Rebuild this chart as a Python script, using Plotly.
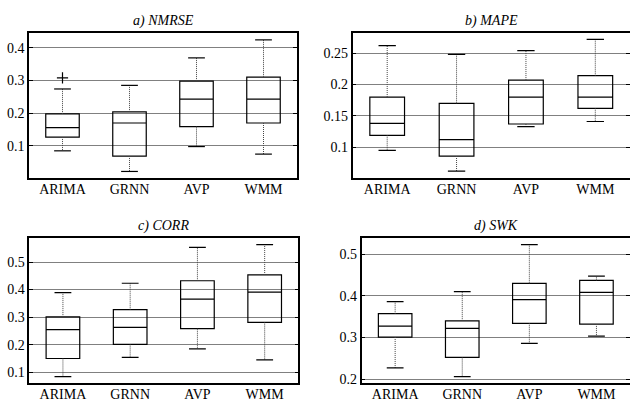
import plotly.graph_objects as go

categories = ["ARIMA", "GRNN", "AVP", "WMM"]

# a) NMRSE
nmrse_low = [0.085, 0.022, 0.098, 0.075]
nmrse_q1 = [0.127, 0.069, 0.159, 0.170]
nmrse_med = [0.156, 0.170, 0.243, 0.243]
nmrse_q3 = [0.198, 0.204, 0.298, 0.310]
nmrse_high = [0.274, 0.285, 0.369, 0.424]
nmrse_outlier_cat = ["ARIMA"]
nmrse_outlier_val = [0.308]

# b) MAPE
mape_low = [0.095, 0.062, 0.133, 0.141]
mape_q1 = [0.119, 0.086, 0.137, 0.162]
mape_med = [0.138, 0.112, 0.180, 0.180]
mape_q3 = [0.180, 0.170, 0.207, 0.214]
mape_high = [0.262, 0.248, 0.254, 0.272]

# c) CORR
corr_low = [0.084, 0.154, 0.185, 0.145]
corr_q1 = [0.150, 0.201, 0.258, 0.281]
corr_med = [0.255, 0.263, 0.365, 0.391]
corr_q3 = [0.301, 0.327, 0.432, 0.453]
corr_high = [0.389, 0.423, 0.553, 0.563]

# d) SWK
swk_low = [0.227, 0.206, 0.286, 0.303]
swk_q1 = [0.301, 0.252, 0.334, 0.332]
swk_med = [0.327, 0.322, 0.391, 0.408]
swk_q3 = [0.357, 0.340, 0.430, 0.437]
swk_high = [0.386, 0.410, 0.523, 0.447]

titles = ["a) NMRSE", "b) MAPE", "c) CORR", "d) SWK"]
ytick_vals = [
    [0.1, 0.2, 0.3, 0.4],
    [0.1, 0.15, 0.2, 0.25],
    [0.1, 0.2, 0.3, 0.4, 0.5],
    [0.2, 0.3, 0.4, 0.5],
]
ytick_text = [
    ["0.1", "0.2", "0.3", "0.4"],
    ["0.1", "0.15", "0.2", "0.25"],
    ["0.1", "0.2", "0.3", "0.4", "0.5"],
    ["0.2", "0.3", "0.4", "0.5"],
]
yranges = [[0.002, 0.445], [0.051, 0.282], [0.060, 0.586], [0.190, 0.538]]

panels = [
    (nmrse_low, nmrse_q1, nmrse_med, nmrse_q3, nmrse_high),
    (mape_low, mape_q1, mape_med, mape_q3, mape_high),
    (corr_low, corr_q1, corr_med, corr_q3, corr_high),
    (swk_low, swk_q1, swk_med, swk_q3, swk_high),
]

W, H = 630, 399
# pixel frames: left, right, top, bottom
frames = [
    (29, 297, 33, 178),
    (352.5, 630, 33, 178),
    (29.3, 298.3, 238.3, 383.3),
    (361.6, 630, 238.3, 383.3),
]
title_y = [21, 21, 226, 226]

FONT = "'Liberation Serif', 'Times New Roman', Times, serif"
pos = list(range(1, len(categories) + 1))
cap_half = 0.125

fig = go.Figure()
layout = dict(
    width=W, height=H, margin=dict(l=0, r=0, t=0, b=0, autoexpand=False),
    paper_bgcolor="white", plot_bgcolor="white", showlegend=False,
    font=dict(family=FONT, size=14, color="black"),
    annotations=[],
)

for k, (low, q1, med, q3, high) in enumerate(panels):
    s = "" if k == 0 else str(k + 1)
    xa, ya = "x" + s, "y" + s
    l, r, t, b = frames[k]
    # whiskers (dotted)
    wx, wy, cx, cy = [], [], [], []
    for i, p in enumerate(pos):
        wx += [p, p, None, p, p, None]
        wy += [q3[i], high[i], None, q1[i], low[i], None]
        cx += [p - cap_half, p + cap_half, None, p - cap_half, p + cap_half, None]
        cy += [high[i], high[i], None, low[i], low[i], None]
    fig.add_trace(go.Scatter(x=wx, y=wy, mode="lines", xaxis=xa, yaxis=ya,
                             line=dict(color="#444444", width=1, dash="1px,1px"),
                             hoverinfo="skip"))
    fig.add_trace(go.Scatter(x=cx, y=cy, mode="lines", xaxis=xa, yaxis=ya,
                             line=dict(color="black", width=1.2),
                             hoverinfo="skip"))
    fig.add_trace(go.Box(x=pos, q1=q1, median=med, q3=q3,
                         lowerfence=q1, upperfence=q3, orientation="v",
                         width=0.5, whiskerwidth=0, boxpoints=False,
                         fillcolor="rgba(0,0,0,0)",
                         line=dict(color="black", width=1.2),
                         xaxis=xa, yaxis=ya))
    if k == 0:
        ox = [categories.index(c) + 1 for c in nmrse_outlier_cat]
        fig.add_trace(go.Scatter(x=ox, y=nmrse_outlier_val, mode="markers",
                                 xaxis=xa, yaxis=ya,
                                 marker=dict(symbol="cross-thin", size=8,
                                             line=dict(color="black", width=1.2))))
    layout["xaxis" + s] = dict(
        domain=[l / W, min(r / W, 1.0)], anchor=ya, range=[0.5, 4.5],
        tickvals=pos, ticktext=categories, showgrid=False, zeroline=False,
        showline=True, mirror=True, linecolor="black", linewidth=1.5,
        ticks="", fixedrange=True, automargin=False, ticklabelstandoff=-3,
    )
    layout["yaxis" + s] = dict(
        domain=[1 - b / H, 1 - t / H], anchor=xa, range=yranges[k],
        tickvals=ytick_vals[k], ticktext=ytick_text[k],
        showgrid=True, gridcolor="#808080", gridwidth=1, zeroline=False,
        showline=True, mirror="ticks", linecolor="black", linewidth=1.5,
        ticks="inside", ticklen=4, tickcolor="black", fixedrange=True,
        automargin=False,
    )
    layout["annotations"].append(dict(
        text="<i>" + titles[k] + "</i>", xref="paper", yref="paper",
        x=((l + r) / 2) / W, y=1 - title_y[k] / H, xanchor="center",
        yanchor="middle", showarrow=False, font=dict(family=FONT, size=14),
    ))

fig.update_layout(**layout)
fig.write_html(
    "out.html",
    config={"displayModeBar": False},
    post_script="document.body.style.margin='0';document.body.style.overflow='hidden';",
)
